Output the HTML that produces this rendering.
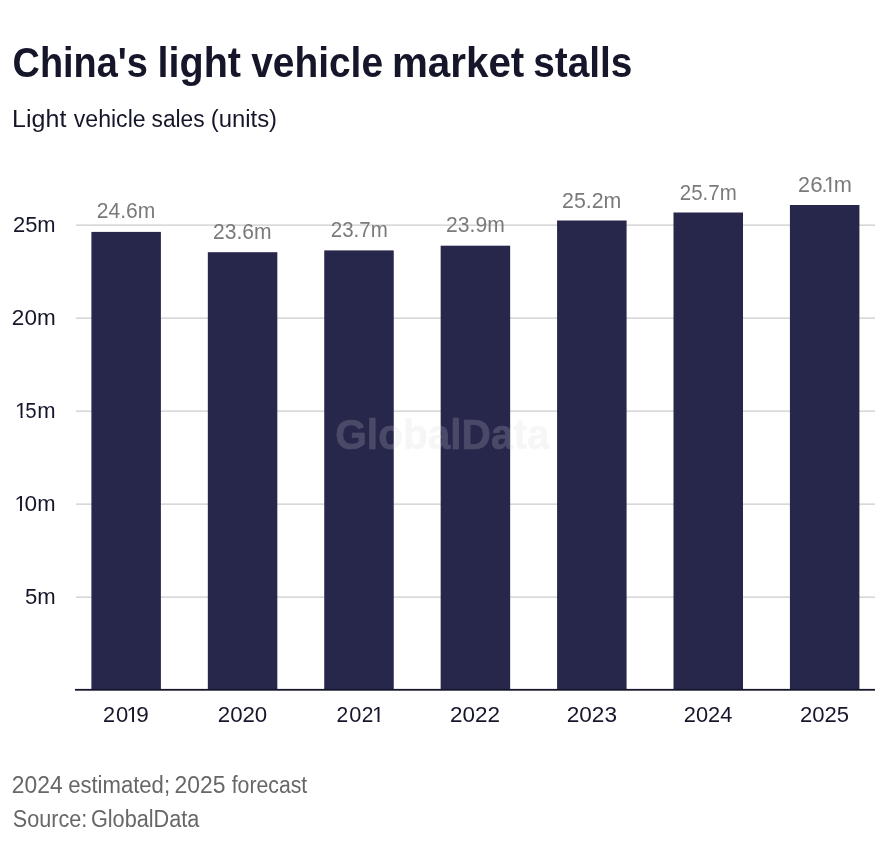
<!DOCTYPE html>
<html lang="en"><head><meta charset="utf-8"><title>China's light vehicle market stalls</title>
<style>
html,body{margin:0;padding:0;background:#fff;}
body{width:885px;height:868px;overflow:hidden;font-family:"Liberation Sans",sans-serif;}
svg{display:block;}
text{font-family:"Liberation Sans",sans-serif;}
.title{font-size:43px;font-weight:700;fill:#16162b;}
.sub{font-size:23px;fill:#16162b;}
.ax{font-size:22px;fill:#16162b;}
.vl{font-size:22px;fill:#7a7a7a;}
.ft{font-size:23px;fill:#676767;}
.wm{font-size:43px;font-weight:700;fill:#d7d7dc;stroke:#d7d7dc;stroke-width:0.6px;stroke-linejoin:round;}
</style></head><body>
<svg width="885" height="868" viewBox="0 0 885 868">
<rect width="885" height="868" fill="#fff"/>
<g class="gridlines">
<rect x="76" y="224.4" width="799" height="1.5" fill="#d4d4d4"/>
<rect x="76" y="317.4" width="799" height="1.5" fill="#d4d4d4"/>
<rect x="76" y="410.4" width="799" height="1.5" fill="#d4d4d4"/>
<rect x="76" y="503.4" width="799" height="1.5" fill="#d4d4d4"/>
<rect x="76" y="596.4" width="799" height="1.5" fill="#d4d4d4"/>
</g>
<g class="bars">
<rect x="91.40" y="231.90" width="69.5" height="457.60" fill="#27274b"/>
<rect x="207.82" y="252.20" width="69.5" height="437.30" fill="#27274b"/>
<rect x="324.24" y="250.40" width="69.5" height="439.10" fill="#27274b"/>
<rect x="440.66" y="245.70" width="69.5" height="443.80" fill="#27274b"/>
<rect x="557.08" y="220.50" width="69.5" height="469.00" fill="#27274b"/>
<rect x="673.50" y="212.50" width="69.5" height="477.00" fill="#27274b"/>
<rect x="789.92" y="205.00" width="69.5" height="484.50" fill="#27274b"/>
</g>
<rect x="75" y="688.9" width="800" height="1.8" fill="#14142a"/>
<g opacity="0.2"><text class="wm" y="449.20"><tspan x="335.25" textLength="214.42" lengthAdjust="spacingAndGlyphs">GlobalData</tspan></text></g>
<defs><clipPath id="k1"><path clip-rule="evenodd" d="M0 0H885V868H0Z M15.90 415.20H20.60V418.50H15.90Z M22.60 415.20H27.00V418.50H22.60Z"/></clipPath><clipPath id="k2"><path clip-rule="evenodd" d="M0 0H885V868H0Z M15.20 508.20H19.90V511.50H15.20Z M21.90 508.20H26.00V511.50H21.90Z"/></clipPath><clipPath id="k3"><path clip-rule="evenodd" d="M0 0H885V868H0Z M127.40 719.60H132.10V722.90H127.40Z M134.10 719.60H138.10V722.90H134.10Z"/></clipPath><clipPath id="k4"><path clip-rule="evenodd" d="M0 0H885V868H0Z M372.80 719.60H377.50V722.90H372.80Z M379.50 719.60H383.90V722.90H379.50Z"/></clipPath><clipPath id="k5"><path clip-rule="evenodd" d="M0 0H885V868H0Z M825.50 189.30H829.30V192.60H825.50Z M831.30 189.30H835.10V192.60H831.30Z"/></clipPath></defs>
<text class="title" y="77.30"><tspan x="12.56" textLength="135.26" lengthAdjust="spacingAndGlyphs">China's</tspan> <tspan x="157.54" textLength="83.52" lengthAdjust="spacingAndGlyphs">light</tspan> <tspan x="251.17" textLength="131.85" lengthAdjust="spacingAndGlyphs">vehicle</tspan> <tspan x="391.92" textLength="132.38" lengthAdjust="spacingAndGlyphs">market</tspan> <tspan x="533.25" textLength="99.20" lengthAdjust="spacingAndGlyphs">stalls</tspan></text>
<text class="sub" y="127.30"><tspan x="12.13" textLength="54.21" lengthAdjust="spacingAndGlyphs">Light</tspan> <tspan x="73.75" textLength="71.86" lengthAdjust="spacingAndGlyphs">vehicle</tspan> <tspan x="151.56" textLength="53.08" lengthAdjust="spacingAndGlyphs">sales</tspan> <tspan x="210.74" textLength="66.32" lengthAdjust="spacingAndGlyphs">(units)</tspan></text>
<text class="ax" y="231.90"><tspan x="12.97" textLength="42.67" lengthAdjust="spacingAndGlyphs">25m</tspan></text>
<text class="ax" y="324.90"><tspan x="11.88" textLength="43.81" lengthAdjust="spacingAndGlyphs">20m</tspan></text>
<text class="ax" y="603.85"><tspan x="24.97" textLength="30.70" lengthAdjust="spacingAndGlyphs">5m</tspan></text>
<text class="ax" y="722.30"><tspan x="217.79" textLength="49.47" lengthAdjust="spacingAndGlyphs">2020</tspan></text>
<text class="ax" y="722.30"><tspan x="450.08" textLength="49.95" lengthAdjust="spacingAndGlyphs">2022</tspan></text>
<text class="ax" y="722.30"><tspan x="566.67" textLength="50.31" lengthAdjust="spacingAndGlyphs">2023</tspan></text>
<text class="ax" y="722.30"><tspan x="683.81" textLength="48.49" lengthAdjust="spacingAndGlyphs">2024</tspan></text>
<text class="ax" y="722.30"><tspan x="800.00" textLength="49.16" lengthAdjust="spacingAndGlyphs">2025</tspan></text>
<text class="vl" y="217.90"><tspan x="96.79" textLength="58.55" lengthAdjust="spacingAndGlyphs">24.6m</tspan></text>
<text class="vl" y="239.00"><tspan x="213.04" textLength="58.61" lengthAdjust="spacingAndGlyphs">23.6m</tspan></text>
<text class="vl" y="237.20"><tspan x="330.82" textLength="56.99" lengthAdjust="spacingAndGlyphs">23.7m</tspan></text>
<text class="vl" y="232.40"><tspan x="446.04" textLength="58.71" lengthAdjust="spacingAndGlyphs">23.9m</tspan></text>
<text class="vl" y="207.90"><tspan x="562.03" textLength="59.33" lengthAdjust="spacingAndGlyphs">25.2m</tspan></text>
<text class="vl" y="199.90"><tspan x="679.87" textLength="56.84" lengthAdjust="spacingAndGlyphs">25.7m</tspan></text>
<text class="ft" y="793.00"><tspan x="11.86" textLength="50.70" lengthAdjust="spacingAndGlyphs">2024</tspan> <tspan x="68.14" textLength="101.89" lengthAdjust="spacingAndGlyphs">estimated;</tspan> <tspan x="174.56" textLength="50.96" lengthAdjust="spacingAndGlyphs">2025</tspan> <tspan x="231.67" textLength="75.60" lengthAdjust="spacingAndGlyphs">forecast</tspan></text>
<text class="ft" y="826.90"><tspan x="12.86" textLength="74.43" lengthAdjust="spacingAndGlyphs">Source:</tspan> <tspan x="90.92" textLength="108.45" lengthAdjust="spacingAndGlyphs">GlobalData</tspan></text>
<text class="ax" y="417.90" clip-path="url(#k1)"><tspan x="15.10" textLength="12.25" lengthAdjust="spacingAndGlyphs">1</tspan><tspan x="25.37" textLength="11.35" lengthAdjust="spacingAndGlyphs">5</tspan><tspan x="37.35" textLength="18.33" lengthAdjust="spacingAndGlyphs">m</tspan></text>
<text class="ax" y="510.90" clip-path="url(#k2)"><tspan x="14.40" textLength="12.25" lengthAdjust="spacingAndGlyphs">1</tspan><tspan x="24.53" textLength="12.60" lengthAdjust="spacingAndGlyphs">0</tspan><tspan x="37.35" textLength="18.33" lengthAdjust="spacingAndGlyphs">m</tspan></text>
<text class="ax" y="722.30" clip-path="url(#k3)"><tspan x="103.11" textLength="12.07" lengthAdjust="spacingAndGlyphs">2</tspan><tspan x="115.95" textLength="12.25" lengthAdjust="spacingAndGlyphs">0</tspan><tspan x="126.60" textLength="12.25" lengthAdjust="spacingAndGlyphs">1</tspan><tspan x="136.38" textLength="12.55" lengthAdjust="spacingAndGlyphs">9</tspan></text>
<text class="ax" y="722.30" clip-path="url(#k4)"><tspan x="336.54" textLength="11.71" lengthAdjust="spacingAndGlyphs">2</tspan><tspan x="349.16" textLength="12.13" lengthAdjust="spacingAndGlyphs">0</tspan><tspan x="361.64" textLength="11.71" lengthAdjust="spacingAndGlyphs">2</tspan><tspan x="372.00" textLength="12.25" lengthAdjust="spacingAndGlyphs">1</tspan></text>
<text class="vl" y="192.00" clip-path="url(#k5)"><tspan x="798.02" textLength="11.95" lengthAdjust="spacingAndGlyphs">2</tspan><tspan x="810.19" textLength="12.43" lengthAdjust="spacingAndGlyphs">6</tspan><tspan x="821.40" textLength="6.12" lengthAdjust="spacingAndGlyphs">.</tspan><tspan x="823.80" textLength="12.25" lengthAdjust="spacingAndGlyphs">1</tspan><tspan x="833.71" textLength="18.15" lengthAdjust="spacingAndGlyphs">m</tspan></text>
</svg></body></html>
